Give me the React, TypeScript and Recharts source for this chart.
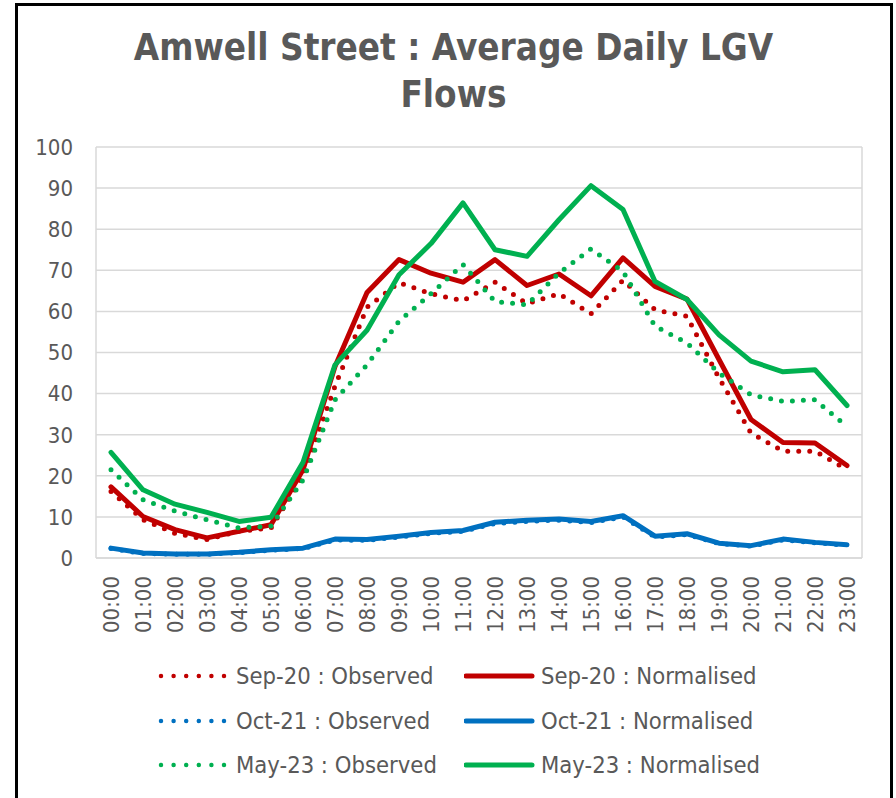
import React from 'react';
import { LineChart, Line, XAxis, YAxis, CartesianGrid } from 'recharts';

const hours = [
  '00:00', '01:00', '02:00', '03:00', '04:00', '05:00', '06:00', '07:00',
  '08:00', '09:00', '10:00', '11:00', '12:00', '13:00', '14:00', '15:00',
  '16:00', '17:00', '18:00', '19:00', '20:00', '21:00', '22:00', '23:00',
];

const sep20Observed = [16.2, 9.3, 6.0, 4.5, 6.5, 7.3, 19.9, 41.8, 61.0, 67.0, 64.3, 62.6, 67.1, 61.9, 64.3, 59.4, 67.6, 60.4, 58.8, 43.8, 30.4, 26.0, 26.0, 21.5];
const sep20Normalised = [17.3, 10.1, 6.9, 4.9, 6.5, 8.1, 21.5, 46.6, 64.6, 72.6, 69.3, 67.1, 72.6, 66.3, 69.1, 63.8, 73.0, 66.1, 63.0, 48.3, 33.7, 28.1, 28.0, 22.5];
const oct21Observed = [2.3, 1.1, 0.9, 0.9, 1.3, 1.9, 2.3, 4.4, 4.3, 5.1, 6.0, 6.5, 8.4, 8.9, 9.2, 8.6, 10.0, 5.1, 5.7, 3.5, 2.9, 4.4, 3.7, 3.1];
const oct21Normalised = [2.4, 1.2, 1.0, 1.0, 1.4, 2.0, 2.4, 4.6, 4.5, 5.3, 6.2, 6.7, 8.7, 9.2, 9.5, 8.9, 10.3, 5.3, 5.9, 3.6, 3.0, 4.6, 3.8, 3.2];
const may23Observed = [21.5, 14.2, 11.4, 9.3, 7.3, 7.8, 19.0, 38.5, 47.0, 57.6, 64.3, 71.4, 62.4, 61.6, 69.3, 75.2, 69.7, 56.4, 52.3, 45.0, 39.7, 38.1, 38.5, 32.0];
const may23Normalised = [25.7, 16.6, 13.1, 11.1, 8.9, 9.9, 23.3, 47.0, 55.4, 68.9, 76.5, 86.4, 75.0, 73.4, 82.3, 90.6, 84.8, 67.3, 62.9, 54.3, 47.9, 45.3, 45.8, 37.1];

const yTicks = [0, 10, 20, 30, 40, 50, 60, 70, 80, 90, 100];

const series = [
  { key: 'Sep-20 : Observed', values: sep20Observed, color: '#C00000', dotted: true },
  { key: 'Sep-20 : Normalised', values: sep20Normalised, color: '#C00000', dotted: false },
  { key: 'Oct-21 : Observed', values: oct21Observed, color: '#0070C0', dotted: true },
  { key: 'Oct-21 : Normalised', values: oct21Normalised, color: '#0070C0', dotted: false },
  { key: 'May-23 : Observed', values: may23Observed, color: '#00B050', dotted: true },
  { key: 'May-23 : Normalised', values: may23Normalised, color: '#00B050', dotted: false },
];

const data = hours.map((hour, i) => {
  const row: any = { hour };
  series.forEach((s) => { row[s.key] = s.values[i]; });
  return row;
});

const FONT = "'DejaVu Sans Condensed', 'DejaVu Sans', sans-serif";
const TEXT = '#595959';

const HourTick = (props: any) => {
  const { x, y, payload } = props;
  return (
    <text
      x={x}
      y={y}
      transform={`rotate(-90 ${x} ${y})`}
      textAnchor="end"
      dominantBaseline="central"
      fill={TEXT}
      fontSize={22}
      fontFamily={FONT}
    >
      {payload.value}
    </text>
  );
};

function LegendBox() {
  const rows = [0, 2, 4];
  return (
    <div style={{ position: 'absolute', left: 0, top: 654, width: 896, fontFamily: FONT, fontSize: 23.6, color: TEXT }}>
      {rows.map((r, ri) => (
        <div key={r} style={{ position: 'absolute', top: ri * 44.5, left: 0, height: 44, width: 896 }}>
          {[series[r], series[r + 1]].map((s, ci) => (
            <div key={s.key} style={{ position: 'absolute', left: ci === 0 ? 158 : 464, top: 0, height: 44, display: 'flex', alignItems: 'center', whiteSpace: 'nowrap' }}>
              <svg width={72} height={12} style={{ marginRight: ci === 0 ? 6 : 5 }}>
                {s.dotted ? (
                  <line x1={3} y1={6} x2={67} y2={6} stroke={s.color} strokeWidth={4.5} strokeLinecap="round" strokeDasharray="0 12.6" />
                ) : (
                  <line x1={2} y1={6} x2={68} y2={6} stroke={s.color} strokeWidth={5} strokeLinecap="round" />
                )}
              </svg>
              <span>{s.key}</span>
            </div>
          ))}
        </div>
      ))}
    </div>
  );
}

export default function App() {
  return (
    <div style={{ position: 'absolute', left: 0, top: 0, width: 896, height: 798, background: '#fff', overflow: 'hidden' }}>
      <div style={{ position: 'absolute', left: 15, top: 3, width: 878, height: 798, border: '3px solid #000', boxSizing: 'border-box' }} />
      <div style={{ position: 'absolute', left: 16, top: 24, width: 875, textAlign: 'center', fontFamily: FONT, fontWeight: 'bold', fontSize: 36.5, lineHeight: '47px', color: TEXT }}>
        Amwell Street : Average Daily LGV<br />Flows
      </div>
      <div style={{ position: 'absolute', left: 0, top: 0 }}>
        <LineChart width={896} height={798} data={data} margin={{ top: 147, right: 34, left: 0, bottom: 160 }}>
          <CartesianGrid stroke="#d9d9d9" strokeWidth={1.5} verticalPoints={[96, 862]} />
          <XAxis
            dataKey="hour"
            interval={0}
            padding={{ left: 15, right: 15 }}
            axisLine={{ stroke: '#d9d9d9', strokeWidth: 1.5 }}
            tickLine={false}
            tickMargin={12}
            height={80}
            tick={<HourTick />}
          />
          <YAxis
            domain={[0, 100]}
            ticks={yTicks}
            width={96}
            axisLine={false}
            tickLine={false}
            tickMargin={17}
            tick={{ fill: TEXT, fontSize: 22, fontFamily: FONT }}
          />
          {series.map((s) => (
            <Line
              key={s.key}
              type="linear"
              dataKey={s.key}
              stroke={s.color}
              strokeWidth={5}
              strokeLinecap="round"
              strokeLinejoin="round"
              strokeDasharray={s.dotted ? '0 11' : undefined}
              dot={false}
              activeDot={false}
              isAnimationActive={false}
            />
          ))}
        </LineChart>
      </div>
      <LegendBox />
    </div>
  );
}
